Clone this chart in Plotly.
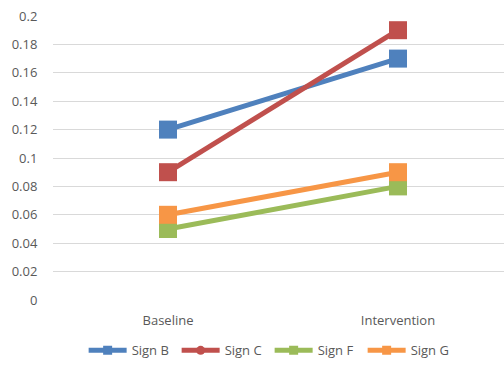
import plotly.graph_objects as go

categories = ["Baseline", "Intervention"]
series_names = ["Sign B", "Sign C", "Sign F", "Sign G"]
sign_b = [0.12, 0.17]
sign_c = [0.09, 0.19]
sign_f = [0.05, 0.08]
sign_g = [0.06, 0.09]
y_ticks = [0, 0.02, 0.04, 0.06, 0.08, 0.1, 0.12, 0.14, 0.16, 0.18, 0.2]
y_tick_labels = ["0", "0.02", "0.04", "0.06", "0.08", "0.1", "0.12", "0.14", "0.16", "0.18", "0.2"]

colors = ["#4F81BD", "#C0504D", "#9BBB59", "#F79646"]
legend_symbols = ["square", "circle", "square", "square"]
values = [sign_b, sign_c, sign_f, sign_g]

fig = go.Figure()
for name, vals, col in zip(series_names, values, colors):
    fig.add_trace(go.Scatter(
        x=[0, 1], y=vals, name=name, mode="lines+markers", showlegend=False,
        line=dict(color=col, width=5),
        marker=dict(symbol="square", size=18, color=col),
    ))
for name, col, sym in zip(series_names, colors, legend_symbols):
    fig.add_trace(go.Scatter(
        x=[None], y=[None], name=name, mode="lines+markers",
        line=dict(color=col, width=5),
        marker=dict(symbol=sym, size=9, color=col),
    ))

fig.update_layout(
    width=504, height=365,
    margin=dict(l=53, r=0, t=16, b=65),
    paper_bgcolor="white", plot_bgcolor="white",
    font=dict(family="Open Sans, Liberation Sans, sans-serif", size=13, color="#595959"),
    showlegend=True,
    legend=dict(orientation="h", x=0.535, xanchor="center", xref="container",
                y=0.04, yanchor="middle", yref="container",
                font=dict(size=13, color="#595959"), itemwidth=38, tracegroupgap=0,
                entrywidth=40, entrywidthmode="pixels"),
    xaxis=dict(range=[-0.5, 1.461], tickmode="array", tickvals=[0, 1], ticktext=categories,
               showgrid=False, zeroline=False, showline=False, ticks="outside", ticklen=8,
               tickcolor="rgba(0,0,0,0)", fixedrange=True, automargin=False),
    yaxis=dict(range=[0, 0.2], tickmode="array", tickvals=y_ticks, ticktext=y_tick_labels,
               showgrid=True, gridcolor="#D9D9D9", gridwidth=1, zeroline=False,
               showline=False, ticks="outside", ticklen=12, tickcolor="rgba(0,0,0,0)",
               automargin=False),
)

fig.write_html("out.html", config={"displayModeBar": False},
               post_script="document.body.style.margin='0';document.body.style.overflow='hidden';")
